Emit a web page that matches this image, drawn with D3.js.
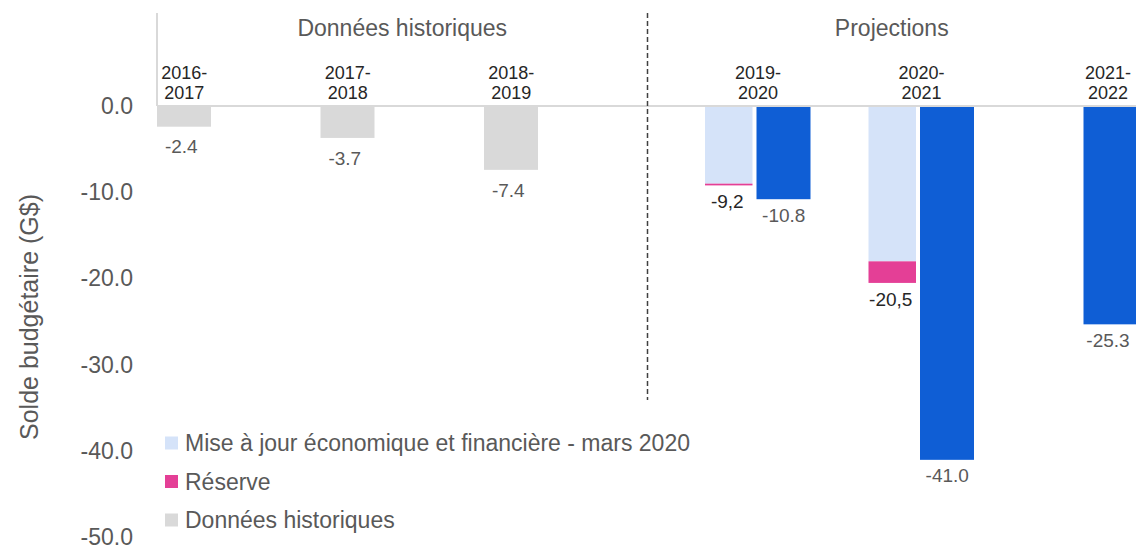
<!DOCTYPE html>
<html>
<head>
<meta charset="utf-8">
<script src="https://cdn.jsdelivr.net/npm/d3@7"></script>
<style>
  body { margin: 0; background: #fff; }
  svg { font-family: "Liberation Sans", Arial, sans-serif; }
</style>
</head>
<body>
<svg id="chart" width="1136" height="549"></svg>
<script>
// data
var categories = ["2016-2017", "2017-2018", "2018-2019", "2019-2020", "2020-2021", "2021-2022"];
var historique = [-2.4, -3.7, -7.4, null, null, null];
var majMars = [null, null, null, -9.0, -18.0, null];   // Mise à jour économique et financière - mars 2020
var reserve = [null, null, null, -0.2, -2.5, null];
var projection = [null, null, null, -10.8, -41.0, -25.3];
var yTicks = [0, -10, -20, -30, -40, -50];
var legendLabels = ["Mise à jour économique et financière - mars 2020", "Réserve", "Données historiques"];

var gray_color = "#d9d9d9"
var light_color = "#d5e3f9"
var pink_color = "#e43f96"
var blue_color = "#0f5ed5"
var text_gray = "#595959"
var text_dark = "#262626"

var svg = d3.select("#chart");

var x = d3.scaleBand().domain(categories).range([157, 1138]).padding(0);
var x1 = d3.scaleBand().domain(["hist", "maj", "proj"]).range([0, x.bandwidth()]);
var y = d3.scaleLinear().domain([0, -50]).range([106, 537.5]);

// y axis (labels only)
var yAxis = svg.append("g")
  .attr("transform", "translate(157,0)")
  .call(d3.axisLeft(y).tickValues(yTicks).tickSize(0).tickPadding(24)
    .tickFormat(function(d) { return d.toFixed(1); }));
yAxis.select(".domain").remove();
yAxis.selectAll("text")
  .attr("fill", text_gray)
  .style("font-size", "23px")
  .style("font-family", "Liberation Sans, Arial, sans-serif");

svg.append("text")
  .attr("transform", "translate(29," + 317 + ") rotate(-90)")
  .attr("text-anchor", "middle")
  .attr("dy", "0.35em")
  .attr("fill", text_gray)
  .style("font-size", "25px")
  .text("Solde budgétaire (G$)");

var rows = categories.map(function(c, i) {
  return { cat: c, hist: historique[i], maj: majMars[i], res: reserve[i], proj: projection[i] };
});

// bars
var g = svg.append("g");
rows.forEach(function(d) {
  var x0 = x(d.cat);
  if (d.hist != null) {
    g.append("rect")
      .attr("x", x0 + x1("hist")).attr("width", x1.bandwidth() - 0.5)
      .attr("y", y(0)).attr("height", y(d.hist) - y(0))
      .attr("fill", gray_color);
  }
  if (d.maj != null) {
    g.append("rect")
      .attr("x", x0 + x1("maj") + 3).attr("width", x1.bandwidth() - 7)
      .attr("y", y(0)).attr("height", y(d.maj) - y(0))
      .attr("fill", light_color);
    g.append("rect")
      .attr("x", x0 + x1("maj") + 3).attr("width", x1.bandwidth() - 7)
      .attr("y", y(d.maj)).attr("height", y(d.maj + d.res) - y(d.maj))
      .attr("fill", pink_color);
  }
  if (d.proj != null) {
    g.append("rect")
      .attr("x", x0 + x1("proj")).attr("width", x1.bandwidth() - 0.5)
      .attr("y", y(0)).attr("height", y(d.proj) - y(0))
      .attr("fill", blue_color);
  }
});

// zero line and left axis stub
svg.append("line")
  .attr("x1", 157).attr("x2", 1136).attr("y1", y(0)).attr("y2", y(0))
  .attr("stroke", gray_color).attr("stroke-width", 2);
svg.append("line")
  .attr("x1", 157).attr("x2", 157).attr("y1", 13).attr("y2", y(0))
  .attr("stroke", gray_color).attr("stroke-width", 2);

// dashed separator between historical data and projections
var sepX = x("2019-2020");
svg.append("line")
  .attr("x1", sepX).attr("x2", sepX).attr("y1", 13).attr("y2", 400)
  .attr("stroke", "#404040").attr("stroke-width", 1.5)
  .attr("stroke-dasharray", "5,3");

// section headers
svg.append("text")
  .attr("x", (157 + sepX) / 2).attr("y", 28).attr("dy", "0.35em")
  .attr("text-anchor", "middle").attr("fill", text_gray)
  .style("font-size", "23px").text("Données historiques");
svg.append("text")
  .attr("x", (sepX + 1136) / 2).attr("y", 28).attr("dy", "0.35em")
  .attr("text-anchor", "middle").attr("fill", text_gray)
  .style("font-size", "23px").text("Projections");

// category labels, centred over the bars present in each category
var fmt = function(v) { return v.toFixed(1); };
rows.forEach(function(d) {
  var x0 = x(d.cat);
  var left, right;
  if (d.hist != null) { left = x0 + x1("hist"); right = left + x1.bandwidth(); }
  else {
    left = d.maj != null ? x0 + x1("maj") + 3 : x0 + x1("proj");
    right = x0 + x1("proj") + x1.bandwidth();
  }
  var cx = Math.min((left + right) / 2, 1108);
  var parts = d.cat.split("-");
  var t = svg.append("text")
    .attr("text-anchor", "middle").attr("fill", text_dark)
    .style("font-size", "18px");
  t.append("tspan").attr("x", cx).attr("y", 79).text(parts[0] + "-");
  t.append("tspan").attr("x", cx).attr("y", 99).text(parts[1]);

  // value labels
  if (d.hist != null) {
    svg.append("text")
      .attr("x", x0 + x1("hist") + x1.bandwidth() / 2 - 3).attr("y", y(d.hist) + 20).attr("dy", "0.35em")
      .attr("text-anchor", "middle").attr("fill", text_gray)
      .style("font-size", "19px").text(fmt(d.hist));
  }
  if (d.maj != null) {
    var tot = d.maj + d.res;
    svg.append("text")
      .attr("x", x0 + x1("maj") + x1.bandwidth() / 2 - 2).attr("y", y(tot) + 16).attr("dy", "0.35em")
      .attr("text-anchor", "middle").attr("fill", text_dark)
      .style("font-size", "19px").text(fmt(tot).replace(".", ","));
  }
  if (d.proj != null) {
    svg.append("text")
      .attr("x", Math.min(x0 + x1("proj") + x1.bandwidth() / 2, 1108)).attr("y", y(d.proj) + 16).attr("dy", "0.35em")
      .attr("text-anchor", "middle").attr("fill", text_gray)
      .style("font-size", "19px").text(fmt(d.proj));
  }
});

// legend
var legendColors = [light_color, pink_color, gray_color];
var legend = svg.append("g");
legendLabels.forEach(function(l, i) {
  var ly = 443 + i * 38.5;
  legend.append("rect")
    .attr("x", 165).attr("y", ly - 6.5).attr("width", 13).attr("height", 13)
    .attr("fill", legendColors[i]);
  legend.append("text")
    .attr("x", 185).attr("y", ly).attr("dy", "0.35em")
    .attr("fill", text_gray).style("font-size", "23px").text(l);
});
</script>
</body>
</html>
